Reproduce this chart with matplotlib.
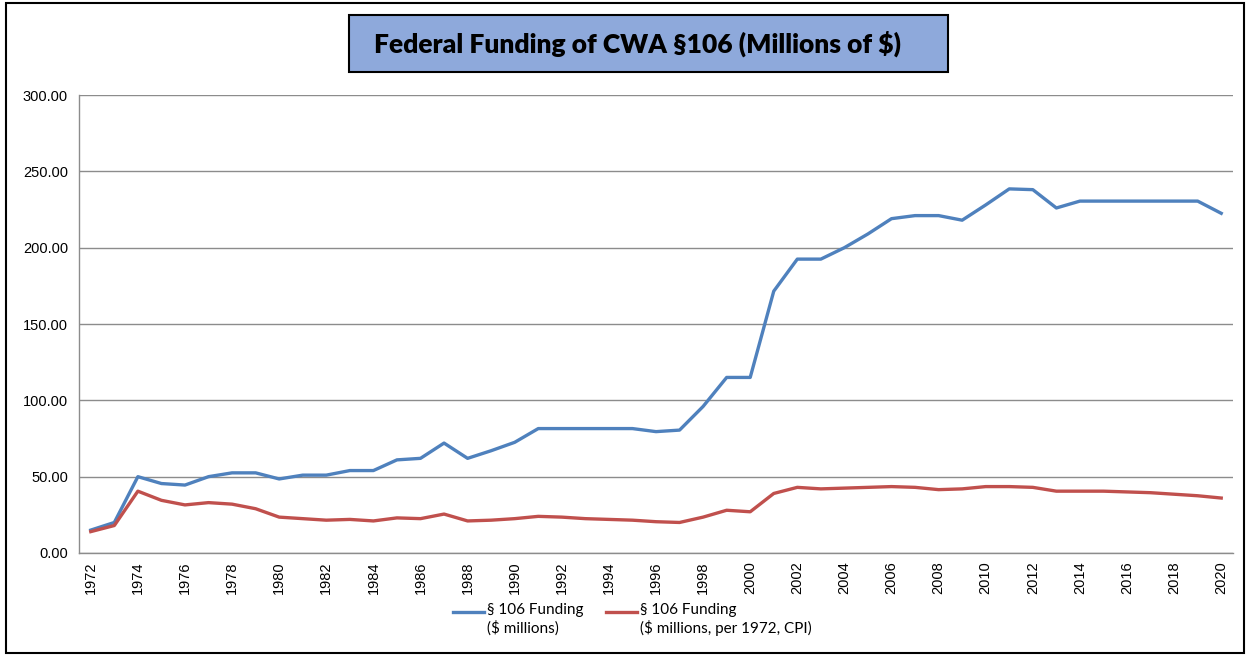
import matplotlib
matplotlib.use("Agg")
import matplotlib.pyplot as plt
from matplotlib.patches import Rectangle
from matplotlib.lines import Line2D

years = list(range(1972, 2021))
funding = [15, 20, 50, 45.5, 44.5, 50, 52.5, 52.5, 48.5, 51,
           51, 54, 54, 61, 62, 72, 62, 67, 72.5, 81.5,
           81.5, 81.5, 81.5, 81.5, 79.5, 80.5, 96, 115, 115, 171.5,
           192.5, 192.5, 200, 209, 219, 221, 221, 218, 228, 238.5,
           238, 226, 230.5, 230.5, 230.5, 230.5, 230.5, 230.5, 222.5]
funding_1972 = [14, 18, 40.5, 34.5, 31.5, 33, 32, 29, 23.5, 22.5,
                21.5, 22, 21, 23, 22.5, 25.5, 21, 21.5, 22.5, 24,
                23.5, 22.5, 22, 21.5, 20.5, 20, 23.5, 28, 27, 39,
                43, 42, 42.5, 43, 43.5, 43, 41.5, 42, 43.5, 43.5,
                43, 40.5, 40.5, 40.5, 40, 39.5, 38.5, 37.5, 36]
labels = ["§ 106 Funding\n($ millions)",
          "§ 106 Funding\n($ millions, per 1972, CPI)"]
colors = ["#4F81BD", "#C0504D"]
title = "Federal Funding of CWA §106 (Millions of $)"

W, H = 1249, 658
fig = plt.figure(figsize=(W / 100, H / 100), dpi=100)
ax = fig.add_axes([79 / W, 1 - 553 / H, (1233 - 79) / W, (553 - 95) / H])

ax.plot(years, funding, color=colors[0], lw=2.4)
ax.plot(years, funding_1972, color=colors[1], lw=2.4)

ax.set_xlim(1971.5, 2020.5)
ax.set_ylim(0, 300)
ax.set_yticks(range(0, 301, 50))
ax.set_yticklabels([f"{v:.2f}" for v in range(0, 301, 50)])
ax.set_xticks(years[::2])
ax.set_xticklabels([str(y) for y in years[::2]], rotation=90)
ax.tick_params(axis="both", labelsize=10.5, length=0, pad=8,
               labelfontfamily="Liberation Sans")
ax.tick_params(axis="x", pad=6)
ax.grid(axis="y", color="#8c8c8c", lw=1)
ax.set_axisbelow(True)
for s in ["top", "right"]:
    ax.spines[s].set_visible(False)
for s in ["left", "bottom"]:
    ax.spines[s].set_color("#8c8c8c")
    ax.spines[s].set_linewidth(1)

# legend, Excel style: swatch next to the first line of the label
for x0, lab, c in zip([453, 606], labels, colors):
    fig.lines.append(Line2D([x0 / W, (x0 + 31) / W], [1 - 612 / H] * 2,
                            transform=fig.transFigure, color=c, lw=2.4))
    fig.text((x0 + 34) / W, 1 - 603 / H, lab, ha="left", va="top",
             fontsize=11, family="Lato", linespacing=1.25)

# title box
fig.patches.append(Rectangle((349 / W, 1 - 72 / H), (948 - 349) / W, 57 / H,
                             transform=fig.transFigure, facecolor="#8EA9DB",
                             edgecolor="black", lw=1.5))
fig.text(638 / W, 1 - 44 / H, title, ha="center", va="center",
         fontsize=19, fontweight="heavy", family="Lato")

# outer frame
fig.patches.append(Rectangle((6 / W, 5 / H), (1244 - 6) / W, (655 - 5) / H,
                             transform=fig.transFigure, fill=False,
                             edgecolor="black", lw=1.5))

fig.savefig("out.png", dpi=100)
